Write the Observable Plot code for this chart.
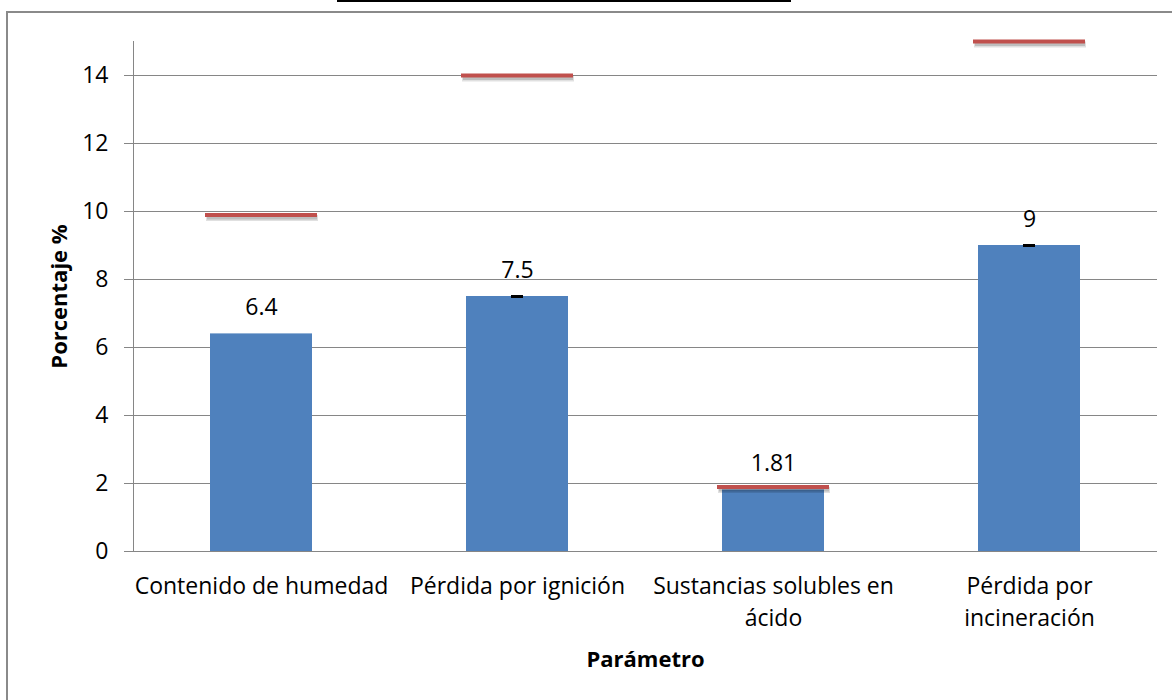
<!DOCTYPE html>
<html>
<head>
<meta charset="utf-8">
<script src="https://cdn.jsdelivr.net/npm/d3@7"></script>
<script src="https://cdn.jsdelivr.net/npm/@observablehq/plot@0.6"></script>
<style>
  body { margin: 0; width: 1172px; height: 700px; overflow: hidden; background: #fff; position: relative; font-family: "Open Sans", sans-serif; }
  #titulo { position: absolute; left: 337px; top: 0; width: 454px; height: 0; border-top: 2px solid #000; }
  #chart { position: absolute; left: 0; top: 0; }
  #marco { position: absolute; left: 6px; top: 11px; width: 1200px; height: 800px; border: 2px solid #8a8a8a; box-sizing: border-box; pointer-events: none; }
</style>
</head>
<body>
<div id="titulo"></div>
<div id="chart"></div>
<div id="marco"></div>
<script>
// Parámetros medidos (%) y su valor límite
const categorias = ["humedad", "ignicion", "acido", "incineracion"];
const etiquetas = ["Contenido de humedad", "Pérdida por ignición", "Sustancias solubles en\nácido", "Pérdida por\nincineración"];
const valores = [6.4, 7.5, 1.81, 9];
const limites = [9.9, 14, 1.9, 15];
const conError = ["ignicion", "incineracion"];
const ticksY = [0, 2, 4, 6, 8, 10, 12, 14];

const datos = categorias.map((c, i) => ({cat: c, valor: valores[i], limite: limites[i]}));
const errores = datos.filter(d => conError.includes(d.cat));
const etiquetaDe = Object.fromEntries(categorias.map((c, i) => [c, etiquetas[i]]));

const gris = "#868686";

const chart = Plot.plot({
  width: 1172,
  height: 700,
  marginLeft: 133,
  marginRight: 15,
  marginTop: 41,
  marginBottom: 149,
  style: {background: "transparent", fontFamily: "Open Sans, sans-serif"},
  x: {domain: categorias, paddingInner: 0.6, paddingOuter: 0.3},
  y: {domain: [0, 15]},
  marks: [
    Plot.gridY(ticksY, {stroke: gris, strokeOpacity: 1, strokeWidth: 1}),
    Plot.frame({anchor: "left", stroke: gris}),
    Plot.axisY(ticksY, {tickSize: 9, tickPadding: 16, fontSize: 23, stroke: gris, fill: "#000", label: null}),
    Plot.axisX({tickSize: 0, tickPadding: 20, fontSize: 23, lineHeight: 1.39, fill: "#000", tickFormat: d => etiquetaDe[d], label: null}),
    Plot.barY(datos, {x: "cat", y: "valor", fill: "#4F81BD"}),
    Plot.tickY(errores, {x: "cat", y: "valor", stroke: "#000", strokeWidth: 3, insetLeft: 45, insetRight: 45}),
    // sombra de las líneas de límite
    Plot.tickY(datos, {x: "cat", y: "limite", stroke: "#000", strokeOpacity: 0.12, strokeWidth: 6, dx: 1, dy: 3, insetLeft: -5, insetRight: -5}),
    Plot.tickY(datos, {x: "cat", y: "limite", stroke: "#000", strokeOpacity: 0.15, strokeWidth: 3, dx: 1, dy: 3, insetLeft: -4, insetRight: -4}),
    Plot.tickY(datos, {x: "cat", y: "limite", stroke: "#C0504D", strokeWidth: 4, insetLeft: -5, insetRight: -5}),
    Plot.text(datos, {x: "cat", y: "valor", text: d => String(d.valor), dy: -26, fontSize: 23, fill: "#000"}),
    Plot.text(["Porcentaje %"], {frameAnchor: "left", textAnchor: "middle", rotate: -90, dx: -74, fontSize: 22, fontWeight: "bold", fill: "#000"}),
    Plot.text(["Parámetro"], {frameAnchor: "bottom", lineAnchor: "middle", dy: 108, fontSize: 22, fontWeight: "bold", fill: "#000"})
  ]
});

document.getElementById("chart").append(chart);
</script>
</body>
</html>
